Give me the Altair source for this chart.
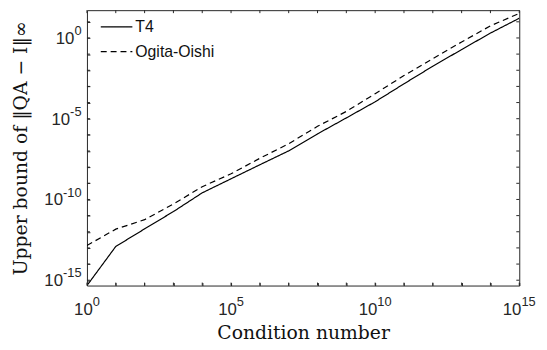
import altair as alt
import pandas as pd

# Condition numbers (one point per decade)
cond = [1e0, 1e1, 1e2, 1e3, 1e4, 1e5, 1e6, 1e7, 1e8, 1e9,
        1e10, 1e11, 1e12, 1e13, 1e14, 1e15]
# Upper bound of ||QA - I||_inf
t4 = [4.68e-16, 1.23e-13, 1.51e-12, 1.78e-11, 2.57e-10, 1.91e-9,
      1.41e-8, 1.02e-7, 1.15e-6, 1.12e-5, 1.12e-4, 1.45e-3,
      1.78e-2, 0.191, 2.0, 16.6]
ogita = [1.41e-13, 1.45e-12, 5.62e-12, 5.25e-11, 6.17e-10, 3.89e-9,
         3.55e-8, 2.82e-7, 3.39e-6, 2.82e-5, 3.55e-4, 4.68e-3,
         5.25e-2, 0.562, 5.62, 33.1]
methods = ["T4", "Ogita-Oishi"]

x_ticks = cond
y_ticks = [1e-15, 1e-14, 1e-13, 1e-12, 1e-11, 1e-10, 1e-9, 1e-8, 1e-7,
           1e-6, 1e-5, 1e-4, 1e-3, 1e-2, 1e-1, 1e0, 1e1]
# tick labels: (value, base, exponent)
x_labels = [(1e0, "10", "0"), (1e5, "10", "5"), (1e10, "10", "10"), (1e15, "10", "15")]
y_labels = [(1e-15, "10", "-15"), (1e-10, "10", "-10"), (1e-5, "10", "-5"), (1e0, "10", "0")]

df = pd.DataFrame({
    "cond": cond * 2,
    "bound": t4 + ogita,
    "method": [methods[0]] * len(t4) + [methods[1]] * len(ogita),
})
df_xt = pd.DataFrame({"v": x_ticks})
df_yt = pd.DataFrame({"v": y_ticks})

W, H = 438, 279
AX = "#262626"
TXT = "#262626"
LFONT = "Liberation Sans"
BASE_FS, EXP_FS = 17, 13
BASE_W = 2 * 0.556 * BASE_FS
TICK = 3


def exp_width(s):
    return sum((0.333 if c == "-" else 0.556) * EXP_FS for c in s)


xscale = alt.Scale(type="log", domain=[1, 1e15], nice=False)
yscale = alt.Scale(type="log", domain=[4.68e-16, 52.5], nice=False)

common_axis = dict(grid=False, domain=False, labels=False, ticks=True, tickSize=3,
                   tickColor=AX, tickWidth=1, tickOpacity=1, offset=-3, zindex=1)

x_bottom = alt.Axis(orient="bottom", values=x_ticks, title="Condition number",
                    titleFont="DejaVu Serif", titleFontSize=19,
                    titleFontWeight="normal", titleColor="#111111", titlePadding=38,
                    **common_axis)
y_left = alt.Axis(orient="left", values=y_ticks, title="Upper bound of ‖QA − I‖∞",
                  titleFont="DejaVu Serif", titleFontSize=19,
                  titleFontWeight="normal", titleColor="#111111", titlePadding=57,
                  **common_axis)

lines = alt.Chart(df).mark_line(color="black", strokeWidth=1.2, clip=True).encode(
    x=alt.X("cond:Q", scale=xscale, axis=x_bottom),
    y=alt.Y("bound:Q", scale=yscale, axis=y_left),
    strokeDash=alt.StrokeDash(
        "method:N",
        scale=alt.Scale(domain=methods, range=[[1, 0], [6, 4]]),
        sort=methods,
        legend=alt.Legend(title=None, orient="none", legendX=13, legendY=0, padding=0,
                          symbolType="stroke", symbolSize=1024,
                          symbolStrokeColor="black", symbolStrokeWidth=1.2,
                          labelFont=LFONT, labelFontSize=16,
                          labelColor="#111111", labelOffset=2, rowPadding=-12),
    ),
)

layers = [lines]

# inward tick marks on all four sides (Matlab box style)
layers.append(alt.Chart(df_xt).mark_rule(color=AX, strokeWidth=1).encode(
    x=alt.X("v:Q", scale=xscale, axis=None), y=alt.value(H), y2=alt.value(H - TICK)))
layers.append(alt.Chart(df_xt).mark_rule(color=AX, strokeWidth=1).encode(
    x=alt.X("v:Q", scale=xscale, axis=None), y=alt.value(0), y2=alt.value(TICK)))
layers.append(alt.Chart(df_yt).mark_rule(color=AX, strokeWidth=1).encode(
    y=alt.Y("v:Q", scale=yscale, axis=None), x=alt.value(0), x2=alt.value(TICK)))
layers.append(alt.Chart(df_yt).mark_rule(color=AX, strokeWidth=1).encode(
    y=alt.Y("v:Q", scale=yscale, axis=None), x=alt.value(W), x2=alt.value(W - TICK)))

# x tick labels (base "10" plus raised exponent), centred on the tick
for v, base, ex in x_labels:
    d = pd.DataFrame({"v": [v], "base": [base], "ex": [ex]})
    total = BASE_W + exp_width(ex)
    layers.append(alt.Chart(d).mark_text(
        align="left", baseline="alphabetic", dx=-total / 2, font=LFONT,
        fontSize=BASE_FS, color=TXT).encode(
        x=alt.X("v:Q", scale=xscale, axis=None), y=alt.value(H + 30), text="base:N"))
    layers.append(alt.Chart(d).mark_text(
        align="left", baseline="alphabetic", dx=-total / 2 + BASE_W, font=LFONT,
        fontSize=EXP_FS, color=TXT).encode(
        x=alt.X("v:Q", scale=xscale, axis=None), y=alt.value(H + 20.5), text="ex:N"))

# y tick labels, right-aligned left of the axis
for v, base, ex in y_labels:
    d = pd.DataFrame({"v": [v], "base": [base], "ex": [ex]})
    ew = exp_width(ex)
    layers.append(alt.Chart(d).mark_text(
        align="right", baseline="alphabetic", dy=6, font=LFONT,
        fontSize=BASE_FS, color=TXT).encode(
        y=alt.Y("v:Q", scale=yscale, axis=None), x=alt.value(-5.5 - ew), text="base:N"))
    layers.append(alt.Chart(d).mark_text(
        align="right", baseline="alphabetic", dy=-3, font=LFONT,
        fontSize=EXP_FS, color=TXT).encode(
        y=alt.Y("v:Q", scale=yscale, axis=None), x=alt.value(-5.5), text="ex:N"))

chart = alt.layer(*layers).resolve_axis(x="independent", y="independent").properties(
    width=W, height=H,
    autosize=alt.AutoSizeParams(type="none"),
    padding={"left": 80, "top": 0, "right": 20, "bottom": 55},
).configure_view(stroke=AX, strokeWidth=1)

chart.save("out.html", embed_options={"renderer": "svg", "actions": False})
